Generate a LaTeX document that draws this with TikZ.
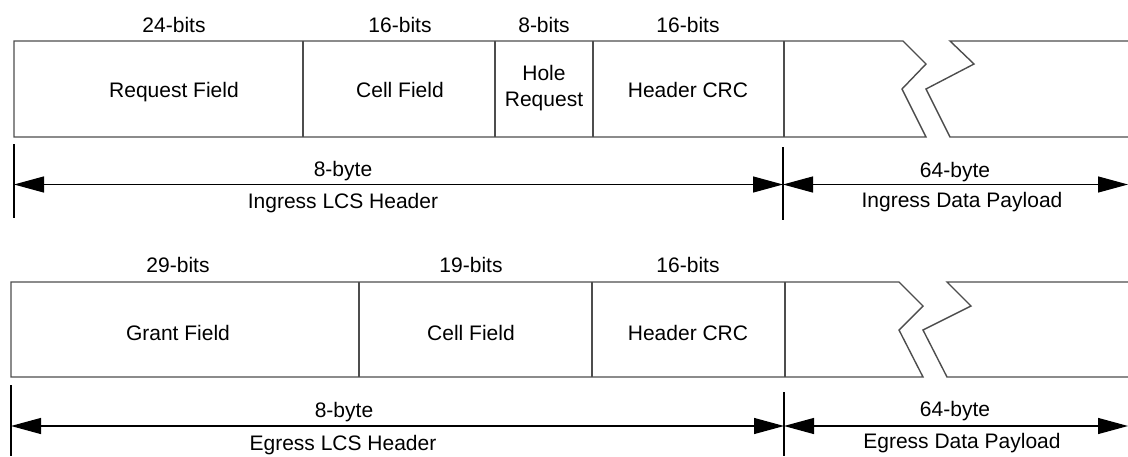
\documentclass[tikz,border=0pt]{standalone}
\usepackage{fontspec}
\setmainfont{Liberation Sans}
\usetikzlibrary{arrows.meta}
\definecolor{framegray}{HTML}{4D4D4D}

\begin{document}
\begin{tikzpicture}[
x=1pt,y=-1pt,
>={Triangle[length=30pt,width=16pt]},
field/.style={
	draw=framegray,
	line width=1.4pt,
	line join=miter
},
span/.style={
	<->,
	line width=1.2pt
},
tick/.style={
	line width=1.3pt
},
txt/.style={
	font=\fontsize{21}{26}\selectfont,
	inner sep=0pt,
	anchor=base,
	align=center
}
]
\useasboundingbox (0,0) rectangle (1128,456);

% ingress cell
\draw[field] (14,41) -- (903,41) -- (926,64) -- (902,89) -- (926,137) -- (14,137) -- cycle;
\draw[field] (1132,41) -- (950,41) -- (974,64) -- (926,89) -- (950,137) -- (1132,137);
\foreach \x in {303,495,593,784}
\draw[field] (\x,41) -- (\x,137);

\foreach \x/\n/\b/\f in {174/req/24/Request Field,400/cell/16/Cell Field,688/crc/16/Header CRC}
{
\node[txt] (i\n) at (\x,97) {\f};
\node[txt] (i\n w) at (\x,32) {\b-bits};
}
\node[txt,anchor=center] (ihole) at (544,87.6) {Hole\\Request};
\node[txt] (iholew) at (544,32) {8-bits};

\coordinate (iL) at (14,184.5);
\coordinate (iM) at (783,184.5);
\coordinate (iR) at (1128,184.5);
\draw[tick] (14,144) -- (14,218);
\draw[tick] (783,147) -- (783,220);
\draw[span] (iL) -- (iM);
\draw[span] (iM) -- (iR);
\node[txt] (ihdr) at (343,176) {8-byte};
\node[txt] (ihdrn) at (343,208) {Ingress LCS Header};
\node[txt] (ipay) at (955,177) {64-byte};
\node[txt] (ipayn) at (962,207) {Ingress Data Payload};

% egress cell
\draw[field] (11,282) -- (899,282) -- (923,306) -- (899,330) -- (923,377) -- (11,377) -- cycle;
\draw[field] (1132,282) -- (947,282) -- (971,306) -- (923,330) -- (947,377) -- (1132,377);
\foreach \x in {359,592,785}
\draw[field] (\x,282) -- (\x,377);

\foreach \x/\n/\b/\f in {178/grant/29/Grant Field,471/cell/19/Cell Field,688/crc/16/Header CRC}
{
\node[txt] (e\n) at (\x,340) {\f};
\node[txt] (e\n w) at (\x,272) {\b-bits};
}

\coordinate (eL) at (11,426);
\coordinate (eM) at (784,426);
\coordinate (eR) at (1128,426);
\draw[tick] (11,385) -- (11,456);
\draw[tick] (784,392) -- (784,456);
\draw[span] (eL) -- (eM);
\draw[span] (eM) -- (eR);
\node[txt] (ehdr) at (344,417) {8-byte};
\node[txt] (ehdrn) at (343,450) {Egress LCS Header};
\node[txt] (epay) at (955,416) {64-byte};
\node[txt] (epayn) at (962,448) {Egress Data Payload};
\end{tikzpicture}
\end{document}
